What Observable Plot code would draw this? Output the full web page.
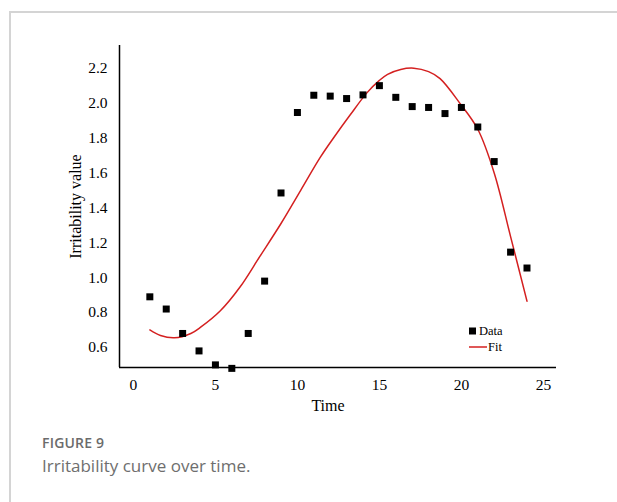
<!DOCTYPE html>
<html>
<head>
<meta charset="utf-8">
<script src="https://cdn.jsdelivr.net/npm/d3@7"></script>
<script src="https://cdn.jsdelivr.net/npm/@observablehq/plot@0.6"></script>
<style>
  html, body { margin: 0; padding: 0; background: #fff; }
  #wrap { position: relative; width: 617px; height: 502px; overflow: hidden; }
  #frame { position: absolute; left: 9px; top: 11px; right: -5px; bottom: -5px;
           border-left: 2px solid #d4d4d4; border-top: 2px solid #d4d4d4; }
  #chart { position: absolute; left: 0; top: 0; }
  #chart svg text { font-family: "Liberation Serif", "Times New Roman", serif !important; font-size: 15.5px !important; fill: #000; }
  #chart svg g[aria-label="text"] text { font-size: 16px !important; }
  #legend { position: absolute; left: 468px; top: 323px; font-family: "Liberation Serif", serif; font-size: 12.5px; color: #000; line-height: 16px; }
  #legend div { display: flex; align-items: center; height: 16px; }
  #fig { position: absolute; left: 42px; top: 433px; font-family: "Open Sans", sans-serif; font-weight: 600; font-size: 14px; color: #6b6b6b; letter-spacing: 0.2px; }
  #cap { position: absolute; left: 42px; top: 454px; font-family: "Open Sans", sans-serif; font-weight: 400; font-size: 17px; color: #6e6e6e; }
</style>
</head>
<body>
<div id="wrap">
  <div id="frame"></div>
  <div id="chart"></div>
  <div id="legend"></div>
  <div id="fig">FIGURE 9</div>
  <div id="cap">Irritability curve over time.</div>
</div>
<script>
// Observed data
const times = [1, 2, 3, 4, 5, 6, 7, 8, 9, 10, 11, 12, 13, 14, 15, 16, 17, 18, 19, 20, 21, 22, 23, 24];
const values = [0.89, 0.82, 0.68, 0.58, 0.50, 0.48, 0.68, 0.98, 1.485, 1.946, 2.045, 2.04, 2.026, 2.047, 2.10, 2.033, 1.98, 1.975, 1.94, 1.975, 1.863, 1.665, 1.146, 1.055];

// Fitted curve
const fitTimes = [1, 1.65, 2.5, 3.5, 4.1, 5.3, 6.5, 7.7, 9.0, 10.2, 11.4, 12.2, 13.2, 14.25, 15.0, 15.5, 16.3, 17.1, 18.0, 18.7, 19.9, 21.0, 22.0, 23.0, 24.0];
const fitValues = [0.70, 0.668, 0.655, 0.68, 0.716, 0.81, 0.946, 1.12, 1.31, 1.50, 1.69, 1.80, 1.93, 2.06, 2.13, 2.165, 2.193, 2.20, 2.18, 2.14, 2.00, 1.85, 1.60, 1.235, 0.865];

const xTicks = [0, 5, 10, 15, 20, 25];
const yTicks = [0.6, 0.8, 1.0, 1.2, 1.4, 1.6, 1.8, 2.0, 2.2];
const xDomain = [-0.85, 25.8];
const yDomain = [0.485, 2.33];
const xLabel = "Time";
const yLabel = "Irritability value";
const seriesNames = ["Data", "Fit"];

const points = times.map((t, i) => ({t, v: values[i]}));
const fit = fitTimes.map((t, i) => ({t, v: fitValues[i]}));

const red = "#d42020";
const font = "'Liberation Serif', 'Times New Roman', serif";

const chart = Plot.plot({
  width: 617,
  height: 420,
  marginLeft: 119,
  marginRight: 61,
  marginTop: 45,
  marginBottom: 53,
  x: {domain: xDomain},
  y: {domain: yDomain},
  style: {fontFamily: font, fontSize: "15px", color: "#000", background: "transparent"},
  marks: [
    Plot.axisX({ticks: xTicks, tickSize: 0, tickPadding: 11, label: null, fontSize: 15, fontFamily: font, tickFormat: d3.format("d")}),
    Plot.axisY({ticks: yTicks, tickSize: 0, tickPadding: 12, label: null, fontSize: 15, fontFamily: font, tickFormat: d3.format(".1f")}),
    Plot.ruleY([yDomain[0]], {stroke: "#000", strokeWidth: 1.5}),
    Plot.ruleX([xDomain[0]], {stroke: "#000", strokeWidth: 1.5}),
    Plot.line(fit, {x: "t", y: "v", stroke: red, strokeWidth: 1.5, curve: "catmull-rom"}),
    Plot.dot(points, {x: "t", y: "v", symbol: "square", r: 3.95, fill: "#000", stroke: "none"}),
    Plot.text([xLabel], {frameAnchor: "bottom", text: d => d, dx: -10, dy: 38, fontSize: 16, fontFamily: font, textAnchor: "middle", lineAnchor: "middle"}),
    Plot.text([yLabel], {frameAnchor: "left", text: d => d, dx: -44, rotate: -90, fontSize: 16, fontFamily: font, textAnchor: "middle", lineAnchor: "middle"})
  ]
});
document.getElementById("chart").appendChild(chart);

const legend = document.getElementById("legend");
legend.innerHTML =
  `<div><svg width="11" height="16"><rect x="1" y="4.5" width="7" height="7" fill="#000"/></svg><span>${seriesNames[0]}</span></div>` +
  `<div><svg width="20" height="16"><line x1="1" x2="19" y1="8" y2="8" stroke="${red}" stroke-width="1.5"/></svg><span>${seriesNames[1]}</span></div>`;
</script>
</body>
</html>
